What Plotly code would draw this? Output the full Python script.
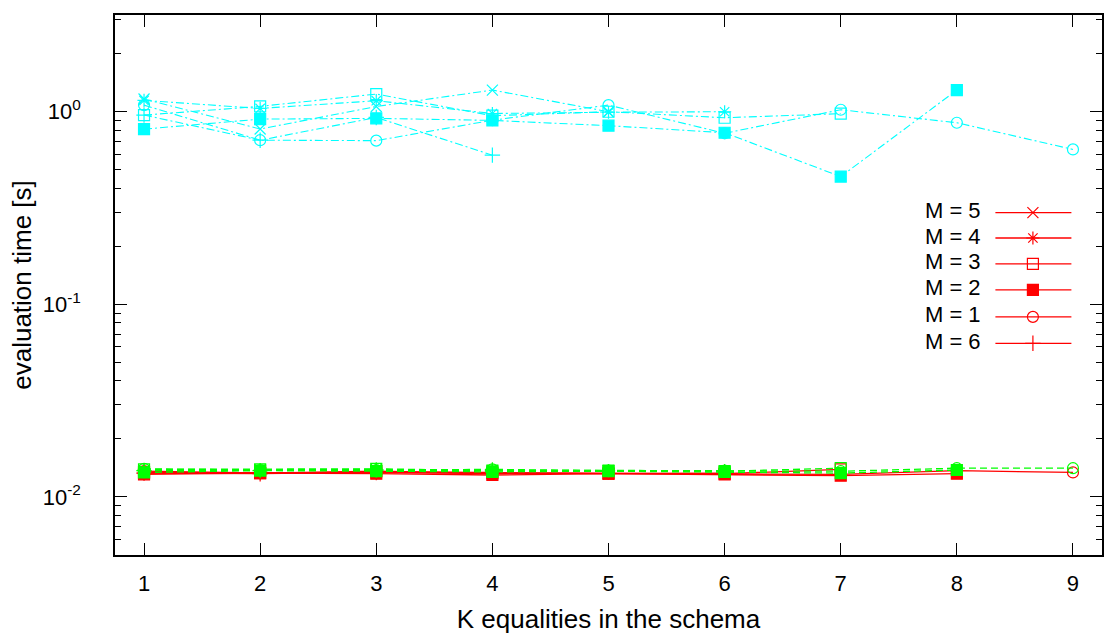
import numpy as np
import plotly.graph_objects as go

# ---------------- data ----------------
K_all = [1, 2, 3, 4, 5, 6, 7, 8, 9]
M_order = [5, 4, 3, 2, 1, 6]
M_labels = ["M = 5", "M = 4", "M = 3", "M = 2", "M = 1", "M = 6"]

# red group (solid) – evaluation time [s], K = 1 .. 10-M
red_M5 = [0.0134, 0.0133, 0.0135, 0.0133, 0.0132]
red_M4 = [0.0133, 0.0134, 0.0134, 0.0132, 0.0133, 0.0133]
red_M3 = [0.0134, 0.0133, 0.0136, 0.0133, 0.0132, 0.0132, 0.0139]
red_M2 = [0.0131, 0.0133, 0.0132, 0.0130, 0.0132, 0.0131, 0.0129, 0.0132]
red_M1 = [0.0136, 0.0133, 0.0134, 0.0133, 0.0133, 0.0132, 0.0131, 0.0137, 0.0134]
red_M6 = [0.0133, 0.0132, 0.0134, 0.0134]

# green group (dashed)
green_M5 = [0.0137, 0.0138, 0.0139, 0.0137, 0.0137]
green_M4 = [0.0138, 0.0138, 0.0138, 0.0138, 0.0137, 0.0137]
green_M3 = [0.0139, 0.0139, 0.0140, 0.0137, 0.0137, 0.0136, 0.0141]
green_M2 = [0.0134, 0.0137, 0.0136, 0.0135, 0.0136, 0.0135, 0.0133, 0.0138]
green_M1 = [0.0140, 0.0138, 0.0138, 0.0139, 0.0137, 0.0137, 0.0136, 0.0141, 0.0141]
green_M6 = [0.0137, 0.0137, 0.0138, 0.0138]

# cyan group (dash-dot)
cyan_M5 = [1.16, 0.81, 1.06, 1.29, 0.996]
cyan_M4 = [1.14, 1.036, 1.136, 0.975, 0.99, 0.996]
cyan_M3 = [0.957, 1.062, 1.23, 0.95, 0.996, 0.927, 0.973]
cyan_M2 = [0.809, 0.912, 0.92, 0.898, 0.843, 0.775, 0.459, 1.29]
cyan_M1 = [1.078, 0.709, 0.705, 0.90, 1.078, 0.77, 1.02, 0.873, 0.635]
cyan_M6 = [0.957, 0.709, 0.93, 0.593]

y_tickvals = [0.01, 0.1, 1]
y_ticktext = ["10<sup>-2</sup>", "10<sup>-1</sup>", "10<sup>0</sup>"]

# ---------------- styling ----------------
symbols = {5: "x-thin-open", 4: "asterisk-open", 3: "square-open",
           2: "square", 1: "circle-open", 6: "cross-thin-open"}
groups = [
    ("#ff0000", "solid", [red_M5, red_M4, red_M3, red_M2, red_M1, red_M6], 1.3),
    ("#00ff00", "7px,4px", [green_M5, green_M4, green_M3, green_M2, green_M1, green_M6], 1.3),
    ("#00ffff", "8px,3px,2px,3px", [cyan_M5, cyan_M4, cyan_M3, cyan_M2, cyan_M1, cyan_M6], 1.1),
]

FONT = "Liberation Sans, Arial, Helvetica, sans-serif"
FS = 22
fig = go.Figure()

for color, dash, series, lw in groups:
    for M, vals in zip(M_order, series):
        fig.add_trace(go.Scatter(
            x=K_all[:len(vals)], y=vals, mode="lines+markers",
            line=dict(color=color, width=lw, dash=dash),
            marker=dict(symbol=symbols[M], size=11, color=color,
                        line=dict(color=color, width=1.2)),
            showlegend=False, hoverinfo="x+y"))

# custom gnuplot-style key (text left, sample right) on an overlay axis
key_rows = [0.634, 0.587, 0.539, 0.491, 0.441, 0.392]
for lab, M, yk in zip(M_labels, M_order, key_rows):
    fig.add_trace(go.Scatter(
        x=[0.892, 0.969], y=[yk, yk], mode="lines", xaxis="x2", yaxis="y2",
        line=dict(color="#ff0000", width=1.3), showlegend=False, hoverinfo="skip"))
    fig.add_trace(go.Scatter(
        x=[0.930], y=[yk], mode="markers", xaxis="x2", yaxis="y2",
        marker=dict(symbol=symbols[M], size=11, color="#ff0000",
                    line=dict(color="#ff0000", width=1.2)),
        showlegend=False, hoverinfo="skip"))
    fig.add_trace(go.Scatter(
        x=[0.877], y=[yk], mode="text", text=[lab], textposition="middle left",
        textfont=dict(family=FONT, size=FS, color="black"),
        xaxis="x2", yaxis="y2", showlegend=False, hoverinfo="skip"))

minor_vals = [v * 10.0 ** e for e in (-3, -2, -1) for v in range(2, 10)] + [2, 3]
minor_vals = [v for v in minor_vals if v >= 0.005]

fig.update_layout(
    width=1108, height=637,
    margin=dict(l=115, r=4, t=15, b=82),
    paper_bgcolor="white", plot_bgcolor="white",
    font=dict(family=FONT, size=FS, color="black"),
    xaxis=dict(range=[0.75, 9.25], tickvals=K_all, ticks="inside", ticklen=12,
               tickwidth=1, tickcolor="black", showline=True, linecolor="black",
               linewidth=1.5, mirror="ticks", showgrid=False, zeroline=False,
               title=dict(text="K equalities in the schema", standoff=15),
               tickfont=dict(size=FS), ticklabelstandoff=8),
    yaxis=dict(type="log", range=[np.log10(0.005), 0.5], tickvals=y_tickvals,
               ticktext=y_ticktext, ticks="inside", ticklen=12, tickwidth=1,
               tickcolor="black", showline=True, linecolor="black", linewidth=1.5,
               mirror="ticks", showgrid=False, zeroline=False,
               minor=dict(tickvals=minor_vals, ticks="inside", ticklen=6,
                          tickcolor="black", showgrid=False),
               title=dict(text="evaluation time [s]", standoff=4),
               tickfont=dict(size=FS), ticklabelstandoff=28),
    xaxis2=dict(overlaying="x", range=[0, 1], visible=False, anchor="y2"),
    yaxis2=dict(overlaying="y", range=[0, 1], visible=False, anchor="x2"),
)

fig.write_html("out.html")
